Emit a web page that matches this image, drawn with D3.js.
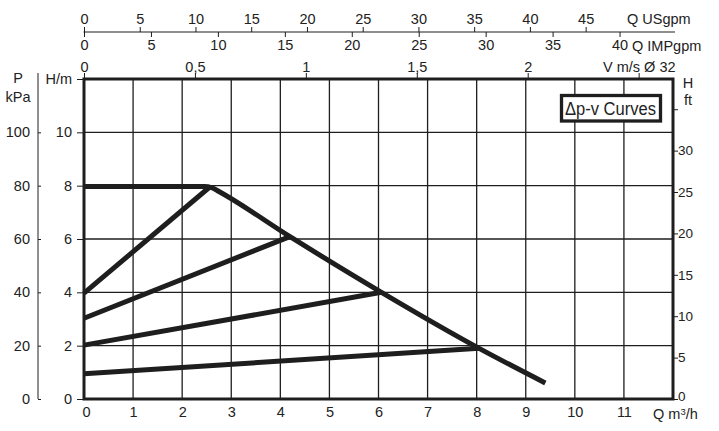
<!DOCTYPE html>
<html><head><meta charset="utf-8">
<script src="https://cdn.jsdelivr.net/npm/d3@7"></script>
<style>
body{margin:0;background:#fff}
svg{display:block}
text{font-family:"Liberation Sans",Arial,sans-serif;fill:#222}
</style></head>
<body>
<svg id="c" width="719" height="431"></svg>
<script>
// ---- data ----
const maxCurveQ = [0, 2.45, 2.6, 2.75, 4.23, 6.06, 8.05, 9.4];
const maxCurveH = [7.97, 7.97, 7.93, 7.78, 6.05, 4.0, 1.9, 0.6];
const dpvStartH = [3.97, 3.03, 2.02, 0.95];
const dpvEndQ   = [2.55, 4.18, 6.06, 8.05];
const dpvEndH   = [7.93, 6.08, 4.0, 1.9];
const qTicks    = [0,1,2,3,4,5,6,7,8,9,10,11];
const hTicks    = [0,2,4,6,8,10,12];
const kpaTicks  = [0,20,40,60,80,100];
const ftTicks   = [0,5,10,15,20,25,30,35];
const usTicks   = [0,5,10,15,20,25,30,35,40,45];
const impTicks  = [0,5,10,15,20,25,30,35,40];
const vTicks    = [0,0.5,1,1.5,2,2.5];
const legendText = "Δp-v Curves";

const svg = d3.select("#c");
const L=84, R=673, T=79, B=399;
const x = d3.scaleLinear().domain([0,12]).range([L,R]);
const y = d3.scaleLinear().domain([0,12]).range([B,T]);
const yk = d3.scaleLinear().domain([0,120]).range([B,T]);
const yf = d3.scaleLinear().domain([0,38.65]).range([B,T]);
const xus = d3.scaleLinear().domain([0,12*4.403]).range([L,R]);
const xim = d3.scaleLinear().domain([0,12*3.666]).range([L,R]);
const xv = d3.scaleLinear().domain([0,12/4.52]).range([L,R]);
const FS = "14.5px";
const ink = "#1e1e1e";

svg.append("rect").attr("width",719).attr("height",431).attr("fill","#fff");

// grid
const g = svg.append("g");
g.selectAll(".vg").data(qTicks.filter(d=>d>0)).join("line")
  .attr("x1",d=>x(d)).attr("x2",d=>x(d)).attr("y1",T).attr("y2",B)
  .attr("stroke",ink).attr("stroke-width",1.3);
g.selectAll(".hg").data([2,4,6,8,10]).join("line")
  .attr("y1",d=>y(d)).attr("y2",d=>y(d)).attr("x1",L).attr("x2",R)
  .attr("stroke",ink).attr("stroke-width",1.3);

function styleAxis(sel){
  sel.selectAll("text").style("font-size",FS).attr("fill","#222");
  sel.selectAll("line").attr("stroke",ink).attr("stroke-width",1);
  sel.selectAll("path").attr("stroke",ink);
}

// left H/m axis
const aH = svg.append("g").attr("transform",`translate(${L-1},0)`)
  .call(d3.axisLeft(y).tickValues(hTicks).tickSize(6).tickPadding(5)
    .tickFormat(d=>d===12?"H/m":d));
aH.select(".domain").remove();
styleAxis(aH);

// kPa axis
const kx = 38;
const aK = svg.append("g").attr("transform",`translate(${kx},0)`)
  .call(d3.axisLeft(yk).tickValues(kpaTicks).tickSizeInner(-3).tickSizeOuter(0).tickPadding(8));
aK.select(".domain").remove();
styleAxis(aK);
svg.append("line").attr("x1",kx).attr("x2",kx).attr("y1",73).attr("y2",B)
  .attr("stroke",ink).attr("stroke-width",1);
svg.append("text").attr("x",18).attr("y",83).attr("text-anchor","middle").style("font-size",FS).text("P");
svg.append("text").attr("x",18).attr("y",102).attr("text-anchor","middle").style("font-size",FS).text("kPa");

// right ft axis
const aF = svg.append("g").attr("transform",`translate(${R},0)`)
  .call(d3.axisRight(yf).tickValues(ftTicks).tickSize(5).tickPadding(0)
    .tickFormat(d=>d===35?"":d));
aF.select(".domain").remove();
styleAxis(aF);
aF.selectAll("text").style("font-size","13.5px");
aF.selectAll(".tick").filter(d=>d===0).select("text").attr("dy","0.1em");
svg.append("text").attr("x",688).attr("y",88).attr("text-anchor","middle").style("font-size",FS).text("H");
svg.append("text").attr("x",688).attr("y",105).attr("text-anchor","middle").style("font-size",FS).text("ft");

// bottom Q axis
const aQ = svg.append("g").attr("transform",`translate(0,${B})`)
  .call(d3.axisBottom(x).tickValues(qTicks).tickSize(0).tickPadding(8));
aQ.select(".domain").remove();
styleAxis(aQ);
aQ.selectAll(".tick").filter(d=>d===0).select("text").attr("dx",2);
const qlab = svg.append("text").attr("x",653).attr("y",419).style("font-size",FS);
qlab.append("tspan").text("Q m");
qlab.append("tspan").attr("dy",-4.5).style("font-size","9.5px").text("3");
qlab.append("tspan").attr("dy",4.5).text("/h");

// top V axis
const aV = svg.append("g").attr("transform",`translate(0,${T})`)
  .call(d3.axisTop(xv).tickValues(vTicks).tickSize(6).tickPadding(1.5)
    .tickFormat(d=>d===2.5?"":String(d).replace(".",",")));
aV.select(".domain").remove();
styleAxis(aV);
svg.append("text").attr("x",603).attr("y",71.5).style("font-size",FS).text("V m/s Ø 32");

// USgpm / IMPgpm axis
const ay = 32;
const aU = svg.append("g").attr("transform",`translate(0,${ay})`)
  .call(d3.axisTop(xus).tickValues(usTicks).tickSize(5).tickPadding(3.5));
aU.select(".domain").remove();
styleAxis(aU);
const aI = svg.append("g").attr("transform",`translate(0,${ay})`)
  .call(d3.axisBottom(xim).tickValues(impTicks).tickSize(5).tickPadding(3));
aI.select(".domain").remove();
styleAxis(aI);
svg.append("line").attr("x1",L-0.5).attr("x2",675).attr("y1",ay).attr("y2",ay)
  .attr("stroke",ink).attr("stroke-width",1.2);
svg.append("text").attr("x",627).attr("y",23.5).style("font-size",FS).text("Q USgpm");
svg.append("text").attr("x",632).attr("y",50.5).style("font-size",FS).text("Q IMPgpm");

// curves
const line = d3.line().x(d=>x(d[0])).y(d=>y(d[1])).curve(d3.curveMonotoneX);
const plotG = svg.append("g");
dpvStartH.forEach((h,i)=>{
  plotG.append("path").datum([[0,h],[dpvEndQ[i],dpvEndH[i]]])
    .attr("d",line).attr("fill","none").attr("stroke",ink).attr("stroke-width",5);
});
plotG.append("path").datum(maxCurveQ.map((q,i)=>[q,maxCurveH[i]]))
  .attr("d",line).attr("fill","none").attr("stroke",ink).attr("stroke-width",5)
  .attr("stroke-linejoin","round");

// border
svg.append("rect").attr("x",L).attr("y",T).attr("width",R-L).attr("height",B-T)
  .attr("fill","none").attr("stroke",ink).attr("stroke-width",3);

// legend
svg.append("rect").attr("x",561.5).attr("y",95.5).attr("width",99).attr("height",25.5)
  .attr("fill","#fff").attr("stroke",ink).attr("stroke-width",3.3);
svg.append("text").attr("x",565).attr("y",114.5)
  .attr("textLength",91).attr("lengthAdjust","spacingAndGlyphs")
  .style("font-size","18px").text(legendText);
</script>
</body></html>
